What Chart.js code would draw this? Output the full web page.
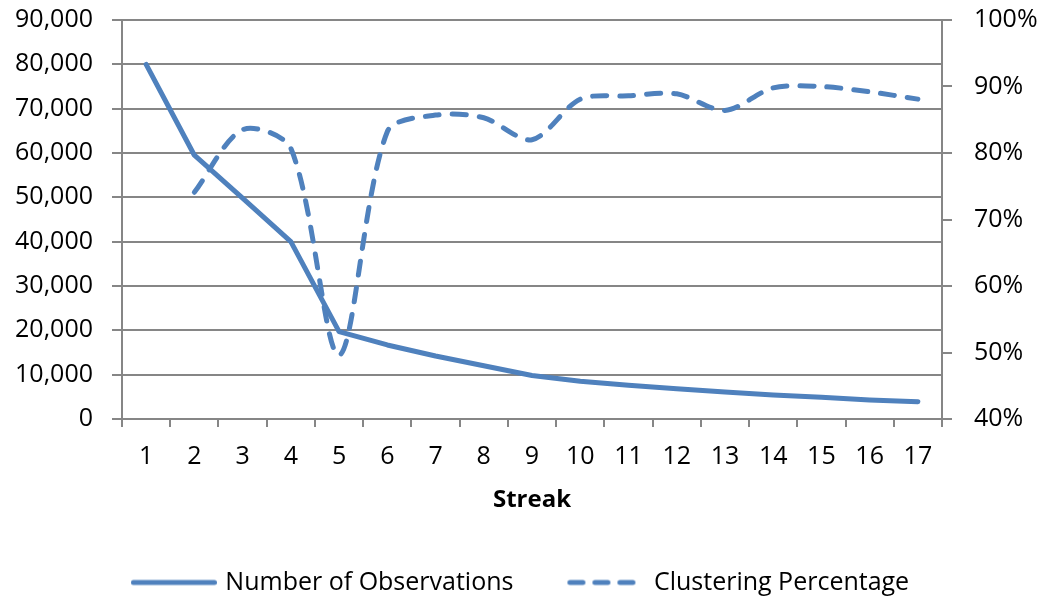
<!DOCTYPE html>
<html lang="en">
<head>
    <meta charset="UTF-8">
    <title>Streak Chart</title>
    <script src="https://cdn.jsdelivr.net/npm/chart.js@4/dist/chart.umd.min.js"></script>
</head>
<style>
    body {
        margin: 0;
        background-color: #ffffff;
    }

    .container {
        width: 1044px;
        height: 600px;
    }
</style>
<body>
    <div class="container">
        <canvas id="streakChart" width="1044" height="600"></canvas>
    </div>

    <script>
        const streaks = ['1', '2', '3', '4', '5', '6', '7', '8', '9', '10', '11', '12', '13', '14', '15', '16', '17'];
        const observations = [80000, 59500, 49800, 40000, 19700, 16700, 14200, 12000, 9800, 8500, 7600, 6800, 6100, 5400, 4900, 4300, 3900];
        const clustering = [null, 74.1, 83.5, 80.7, 49.6, 83.2, 85.7, 85.3, 82.0, 88.1, 88.6, 88.9, 86.4, 89.8, 90.0, 89.2, 88.1];

        const blue = '#4f81bd';
        const gray = '#868686';
        const font = 'Open Sans';

        // little pictures used as legend markers (solid and dashed line)
        function legendLine(width, dashed) {
            const c = document.createElement('canvas');
            c.width = width;
            c.height = 10;
            const g = c.getContext('2d');
            g.strokeStyle = blue;
            g.lineWidth = 5;
            g.lineCap = 'round';
            g.beginPath();
            if (dashed) {
                g.setLineDash([13, 12]);
                g.moveTo(6.5, 5);
                g.lineTo(69.5, 5);
            } else {
                g.moveTo(2.5, 5);
                g.lineTo(width - 2.5, 5);
            }
            g.stroke();
            return c;
        }

        const solidMarker = legendLine(86, false);
        const dashedMarker = legendLine(78, true);

        // nudge the legend a few pixels lower than Chart.js would put it
        const legendShift = {
            id: 'legendShift',
            afterLayout: function(chart) {
                chart.legend.top += 5;
                chart.legend.bottom += 5;
            }
        };

        // y axes: fixed width, and don't let the label padding push the plot down
        function fitY(width) {
            return function(scale) {
                scale.width = width;
                scale.paddingTop = 0;
                scale.paddingBottom = 0;
            };
        }

        const ctx = document.getElementById('streakChart').getContext('2d');

        new Chart(ctx, {
            type: 'line',
            data: {
                labels: streaks,
                datasets: [{
                    label: 'Number of Observations',
                    data: observations,
                    yAxisID: 'y',
                    borderColor: blue,
                    backgroundColor: blue,
                    borderWidth: 5,
                    borderCapStyle: 'round',
                    borderJoinStyle: 'round',
                    pointRadius: 0,
                    tension: 0
                }, {
                    label: 'Clustering Percentage',
                    data: clustering,
                    yAxisID: 'y1',
                    borderColor: blue,
                    backgroundColor: blue,
                    borderWidth: 5,
                    borderDash: [14, 13],
                    borderCapStyle: 'round',
                    pointRadius: 0,
                    tension: 0.3
                }]
            },
            plugins: [legendShift],
            options: {
                responsive: false,
                animation: false,
                layout: {
                    padding: { top: 20, left: 0, right: 0, bottom: 0 }
                },
                scales: {
                    x: {
                        offset: true,
                        grid: {
                            offset: true,
                            drawOnChartArea: false,
                            drawTicks: true,
                            tickLength: 8,
                            color: gray,
                            lineWidth: 2
                        },
                        border: { color: gray, width: 2 },
                        ticks: {
                            font: { family: font, size: 25 },
                            color: '#000000',
                            padding: 15,
                            maxRotation: 0
                        },
                        title: {
                            display: true,
                            text: 'Streak',
                            font: { family: font, size: 24, weight: 'bold' },
                            color: '#000000',
                            padding: { top: 0, bottom: 0 }
                        },
                        afterFit: function(scale) {
                            scale.height = 96;
                        }
                    },
                    y: {
                        position: 'left',
                        min: 0,
                        max: 90000,
                        ticks: {
                            stepSize: 10000,
                            font: { family: font, size: 25 },
                            color: '#000000',
                            padding: 19,
                            callback: function(value) {
                                return value.toLocaleString('en-US');
                            }
                        },
                        grid: {
                            color: gray,
                            lineWidth: 2,
                            tickLength: 10
                        },
                        border: { color: gray, width: 2 },
                        afterFit: fitY(122)
                    },
                    y1: {
                        position: 'right',
                        min: 40,
                        max: 100,
                        ticks: {
                            stepSize: 10,
                            font: { family: font, size: 25 },
                            color: '#000000',
                            padding: 22,
                            callback: function(value) {
                                return value + '%';
                            }
                        },
                        grid: {
                            drawOnChartArea: false,
                            color: gray,
                            lineWidth: 2,
                            tickLength: 10
                        },
                        border: { color: gray, width: 2 },
                        afterFit: fitY(102)
                    }
                },
                plugins: {
                    legend: {
                        position: 'bottom',
                        labels: {
                            usePointStyle: true,
                            pointStyleWidth: 78,
                            padding: 50,
                            color: '#000000',
                            font: { family: font, size: 25 },
                            generateLabels: function(chart) {
                                const items = Chart.defaults.plugins.legend.labels.generateLabels(chart);
                                items.forEach(function(item, i) {
                                    item.pointStyle = i === 0 ? solidMarker : dashedMarker;
                                });
                                return items;
                            }
                        }
                    },
                    tooltip: { enabled: false }
                }
            }
        });
    </script>
</body>
</html>
